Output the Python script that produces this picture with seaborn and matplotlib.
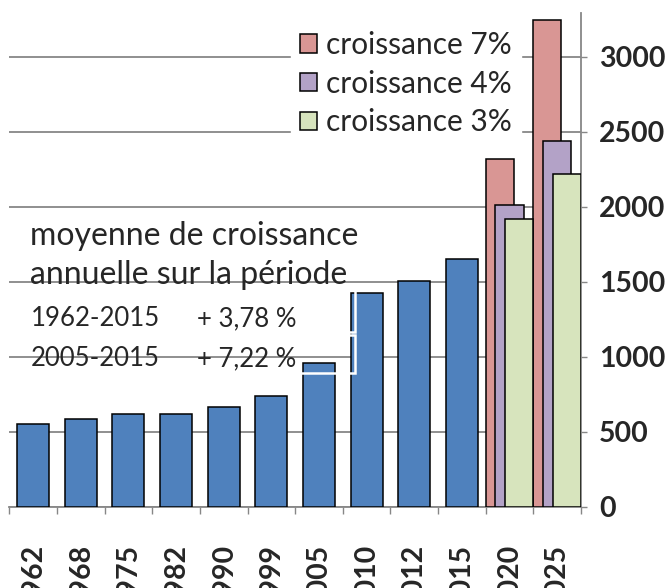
import seaborn as sns
import pandas as pd
import numpy as np
import matplotlib.pyplot as plt
from matplotlib.patches import Patch, Rectangle

# data
years = ['1962', '1968', '1975', '1982', '1990', '1999', '2005', '2010', '2012', '2015', '2020', '2025']
hist_years = ['1962', '1968', '1975', '1982', '1990', '1999', '2005', '2010', '2012', '2015']
hist_vals = [551, 585, 616, 618, 665, 736, 956, 1427, 1505, 1650]
proj_years = ['2020', '2025']
croiss_7 = [2315, 3245]
croiss_4 = [2010, 2440]
croiss_3 = [1915, 2220]

blue = '#4F81BD'
red = '#D99694'
purple = '#B3A2C7'
green = '#D7E4BD'
grey = '#878787'

sns.set_style('white')
plt.rcParams['font.family'] = ['Lato', 'DejaVu Sans']

W, H = 666, 588
fig = plt.figure(figsize=(W / 100, H / 100), dpi=100)
ax = fig.add_axes([9.3 / W, 1 - 506.7 / H, (581 - 9.3) / W, (506.7 - 13) / H])

hist = pd.DataFrame({'annee': hist_years, 'valeur': hist_vals})
sns.barplot(data=hist, x='annee', y='valeur', order=years, color=blue,
            saturation=1, width=0.67, edgecolor='black', linewidth=1.1, ax=ax, zorder=3)

# overlapping projection bars
pos = np.array([years.index(y) for y in proj_years]) - 0.5
bw = 0.59
for k, (vals, col) in enumerate([(croiss_7, red), (croiss_4, purple), (croiss_3, green)]):
    ax.bar(pos + 0.205 * k, vals, width=bw, align='edge', color=col,
           edgecolor='black', linewidth=1.1, zorder=3 + k)

ax.set_xlim(-0.5, len(years) - 0.5)
ax.set_ylim(0, 3290)
ax.set_xlabel('')
ax.set_ylabel('')

# y axis on the right
ax.yaxis.tick_right()
ax.set_yticks(range(0, 3001, 500))
ax.set_yticklabels([str(v) for v in range(0, 3001, 500)], fontweight='bold', fontsize=20.5)
ax.tick_params(axis='y', which='major', right=True, left=False, length=4, width=1,
               color=grey, pad=9)
ax.yaxis.grid(True, color=grey, linewidth=1.3, zorder=0)
ax.set_axisbelow(True)

# x axis: labels at centres, marks at boundaries
ax.set_xticks(range(len(years)))
ax.set_xticklabels(years, rotation=90, fontweight='bold', fontsize=20.5)
ax.set_xticks(np.arange(-0.5, len(years)), minor=True)
ax.tick_params(axis='x', which='major', length=0, pad=27)
ax.tick_params(axis='x', which='minor', bottom=True, length=5, width=1, color=grey)

for s in ['left', 'top']:
    ax.spines[s].set_visible(False)
for s in ['right', 'bottom']:
    ax.spines[s].set_color(grey)
    ax.spines[s].set_linewidth(1.3)

# legend
handles = [Patch(facecolor=red, edgecolor='black', linewidth=1.1, label='croissance 7%'),
           Patch(facecolor=purple, edgecolor='black', linewidth=1.1, label='croissance 4%'),
           Patch(facecolor=green, edgecolor='black', linewidth=1.1, label='croissance 3%')]
leg = fig.legend(handles=handles, loc='upper left', bbox_to_anchor=(291 / W, 1 - 22 / H),
                 fontsize=21.5, frameon=True, fancybox=False, framealpha=1,
                 edgecolor='white', facecolor='white', handlelength=0.57,
                 handleheight=0.57, handletextpad=0.3, labelspacing=0.36,
                 borderpad=0.3, borderaxespad=0)
leg.set_zorder(10)

# annotation
def fx(x):
    return x / W

def fy(y):
    return 1 - y / H

fig.text(fx(30), fy(245), 'moyenne de croissance', fontsize=23, va='baseline', zorder=10)
fig.text(fx(30), fy(284), 'annuelle sur la période', fontsize=23, va='baseline', zorder=10)
fig.text(fx(31), fy(326), '1962-2015', fontsize=18.5, va='baseline', zorder=10)
fig.text(fx(197), fy(326), '+ 3,78 %', fontsize=18.5, va='baseline', zorder=10)
fig.text(fx(31), fy(366), '2005-2015', fontsize=18.5, va='baseline', zorder=10)
fig.text(fx(197), fy(366), '+ 7,22 %', fontsize=18.5, va='baseline', zorder=10)

# white outlines of the text boxes
for top, bot in [(288, 332), (335, 373)]:
    fig.patches.append(Rectangle((fx(5), fy(bot)), fx(355) - fx(5), (bot - top) / H,
                                 transform=fig.transFigure, fill=False,
                                 edgecolor='white', linewidth=1.8, zorder=9))

fig.savefig('out.png', dpi=100)
